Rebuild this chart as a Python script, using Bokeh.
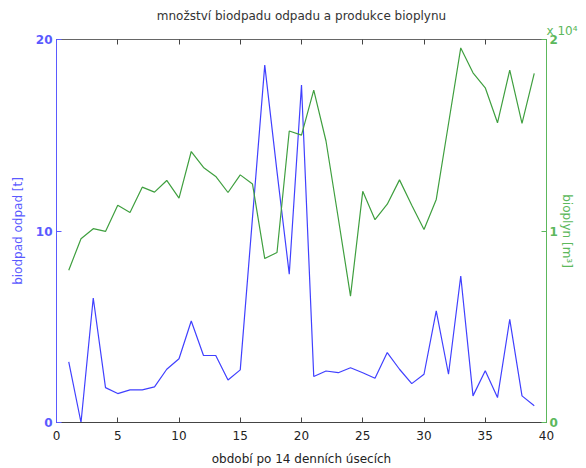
from bokeh.plotting import figure
from bokeh.models import LinearAxis, Range1d, FixedTicker, Title
from bokeh.embed import file_html
from bokeh.resources import INLINE

# ---- data ----
period = list(range(1, 40))
biodpad = [3.16, 0.0, 6.5, 1.82, 1.51, 1.70, 1.70, 1.86, 2.78, 3.33,
           5.30, 3.50, 3.50, 2.22, 2.75, 10.7, 18.66, 13.1, 7.75, 17.62,
           2.40, 2.69, 2.60, 2.86, 2.60, 2.31, 3.65, 2.78, 2.03, 2.52,
           5.83, 2.52, 7.65, 1.39, 2.70, 1.30, 5.39, 1.39, 0.87]
bioplyn = [7950, 9600, 10120, 9980, 11340, 10970, 12290, 12030, 12640, 11720,
           14150, 13320, 12850, 12010, 12930, 12450, 8560, 8880, 15220, 15010,
           17360, 14700, 10680, 6600, 12070, 10590, 11400, 12670, 11350, 10080,
           11650, 15600, 19560, 18260, 17480, 15650, 18400, 15620, 18230]
x_ticks = [0, 5, 10, 15, 20, 25, 30, 35, 40]
left_ticks = [0, 10, 20]
right_ticks = [0, 10000, 20000]
right_tick_labels = {0: "0", 10000: "1", 20000: "2"}

title_text = "množství biodpadu odpadu a produkce bioplynu"
x_label = "období po 14 denních úsecích"
left_label = "biodpad odpad [t]"
right_label = "bioplyn [m³]"
exp_text = "x 10⁴"

# ---- style ----
FONT = "DejaVu Sans"
BLUE_LINE = "#4040ff"
BLUE_AX = "#5a5aff"
GREEN_LINE = "#3f9f3f"
GREEN_AX = "#5cb85c"
DARK = "#333333"

p = figure(width=586, height=468, x_range=Range1d(0, 40), y_range=Range1d(0, 20),
           output_backend="svg", toolbar_location=None,
           min_border_left=56, min_border_right=40, min_border_top=39, min_border_bottom=45)
p.extra_y_ranges = {"bio": Range1d(0, 20000)}
p.grid.visible = False
p.background_fill_color = "white"
p.border_fill_color = "white"
p.outline_line_color = "#666666"

p.title.text = title_text
p.title.align = "center"
p.title.text_font = FONT
p.title.text_font_size = "12px"
p.title.text_font_style = "normal"
p.title.text_color = DARK
p.title.standoff = -6

# bottom axis
xa = p.xaxis[0]
xa.ticker = FixedTicker(ticks=x_ticks)
xa.major_tick_in = 5
xa.major_tick_out = 0
xa.minor_tick_line_color = None
xa.axis_line_color = "#444444"
xa.major_tick_line_color = "#444444"
xa.major_label_text_font = FONT
xa.major_label_text_font_size = "12px"
xa.major_label_text_color = "#222222"
xa.major_label_standoff = 8
xa.axis_label = x_label
xa.axis_label_text_font = FONT
xa.axis_label_text_font_size = "12px"
xa.axis_label_text_font_style = "normal"
xa.axis_label_text_color = "#222222"
xa.axis_label_standoff = 9

# top axis (ticks only, labels not drawn)
ta = LinearAxis(ticker=FixedTicker(ticks=x_ticks), major_tick_in=5, major_tick_out=0,
                minor_tick_line_color=None, axis_line_color="#666666",
                major_tick_line_color="#444444", major_label_text_font_size="1px",
                major_label_text_color=None, major_label_standoff=0)
p.add_layout(ta, "above")

# exponent of the right axis, "x 10^4", just above its top end
exp_title = Title(text=exp_text, align="right", offset=-31, standoff=4,
                  text_font=FONT, text_font_size="12px", text_font_style="normal",
                  text_color=GREEN_AX)
p.add_layout(exp_title, "above")

# left axis
ya = p.yaxis[0]
ya.ticker = FixedTicker(ticks=left_ticks)
ya.major_tick_in = 5
ya.major_tick_out = 0
ya.minor_tick_line_color = None
ya.axis_line_color = BLUE_AX
ya.major_tick_line_color = BLUE_AX
ya.major_label_text_font = FONT
ya.major_label_text_font_size = "12px"
ya.major_label_text_font_style = "bold"
ya.major_label_text_color = BLUE_AX
ya.major_label_standoff = 4
ya.axis_label = left_label
ya.axis_label_text_font = FONT
ya.axis_label_text_font_size = "12px"
ya.axis_label_text_font_style = "normal"
ya.axis_label_text_color = BLUE_AX
ya.axis_label_standoff = 8

# right axis
ra = LinearAxis(y_range_name="bio", ticker=FixedTicker(ticks=right_ticks),
                major_label_overrides=right_tick_labels)
ra.major_tick_in = 5
ra.major_tick_out = 0
ra.minor_tick_line_color = None
ra.axis_line_color = GREEN_AX
ra.major_tick_line_color = GREEN_AX
ra.major_label_text_font = FONT
ra.major_label_text_font_size = "12px"
ra.major_label_text_font_style = "bold"
ra.major_label_text_color = GREEN_AX
ra.major_label_standoff = 3
ra.axis_label = right_label
ra.axis_label_text_font = FONT
ra.axis_label_text_font_size = "12px"
ra.axis_label_text_font_style = "normal"
ra.axis_label_text_color = GREEN_AX
ra.axis_label_standoff = -1
p.add_layout(ra, "right")

# series
p.line(period, biodpad, line_color=BLUE_LINE, line_width=1.2)
p.line(period, bioplyn, y_range_name="bio", line_color=GREEN_LINE, line_width=1.2)

open("out.html", "w").write(file_html(p, INLINE))
